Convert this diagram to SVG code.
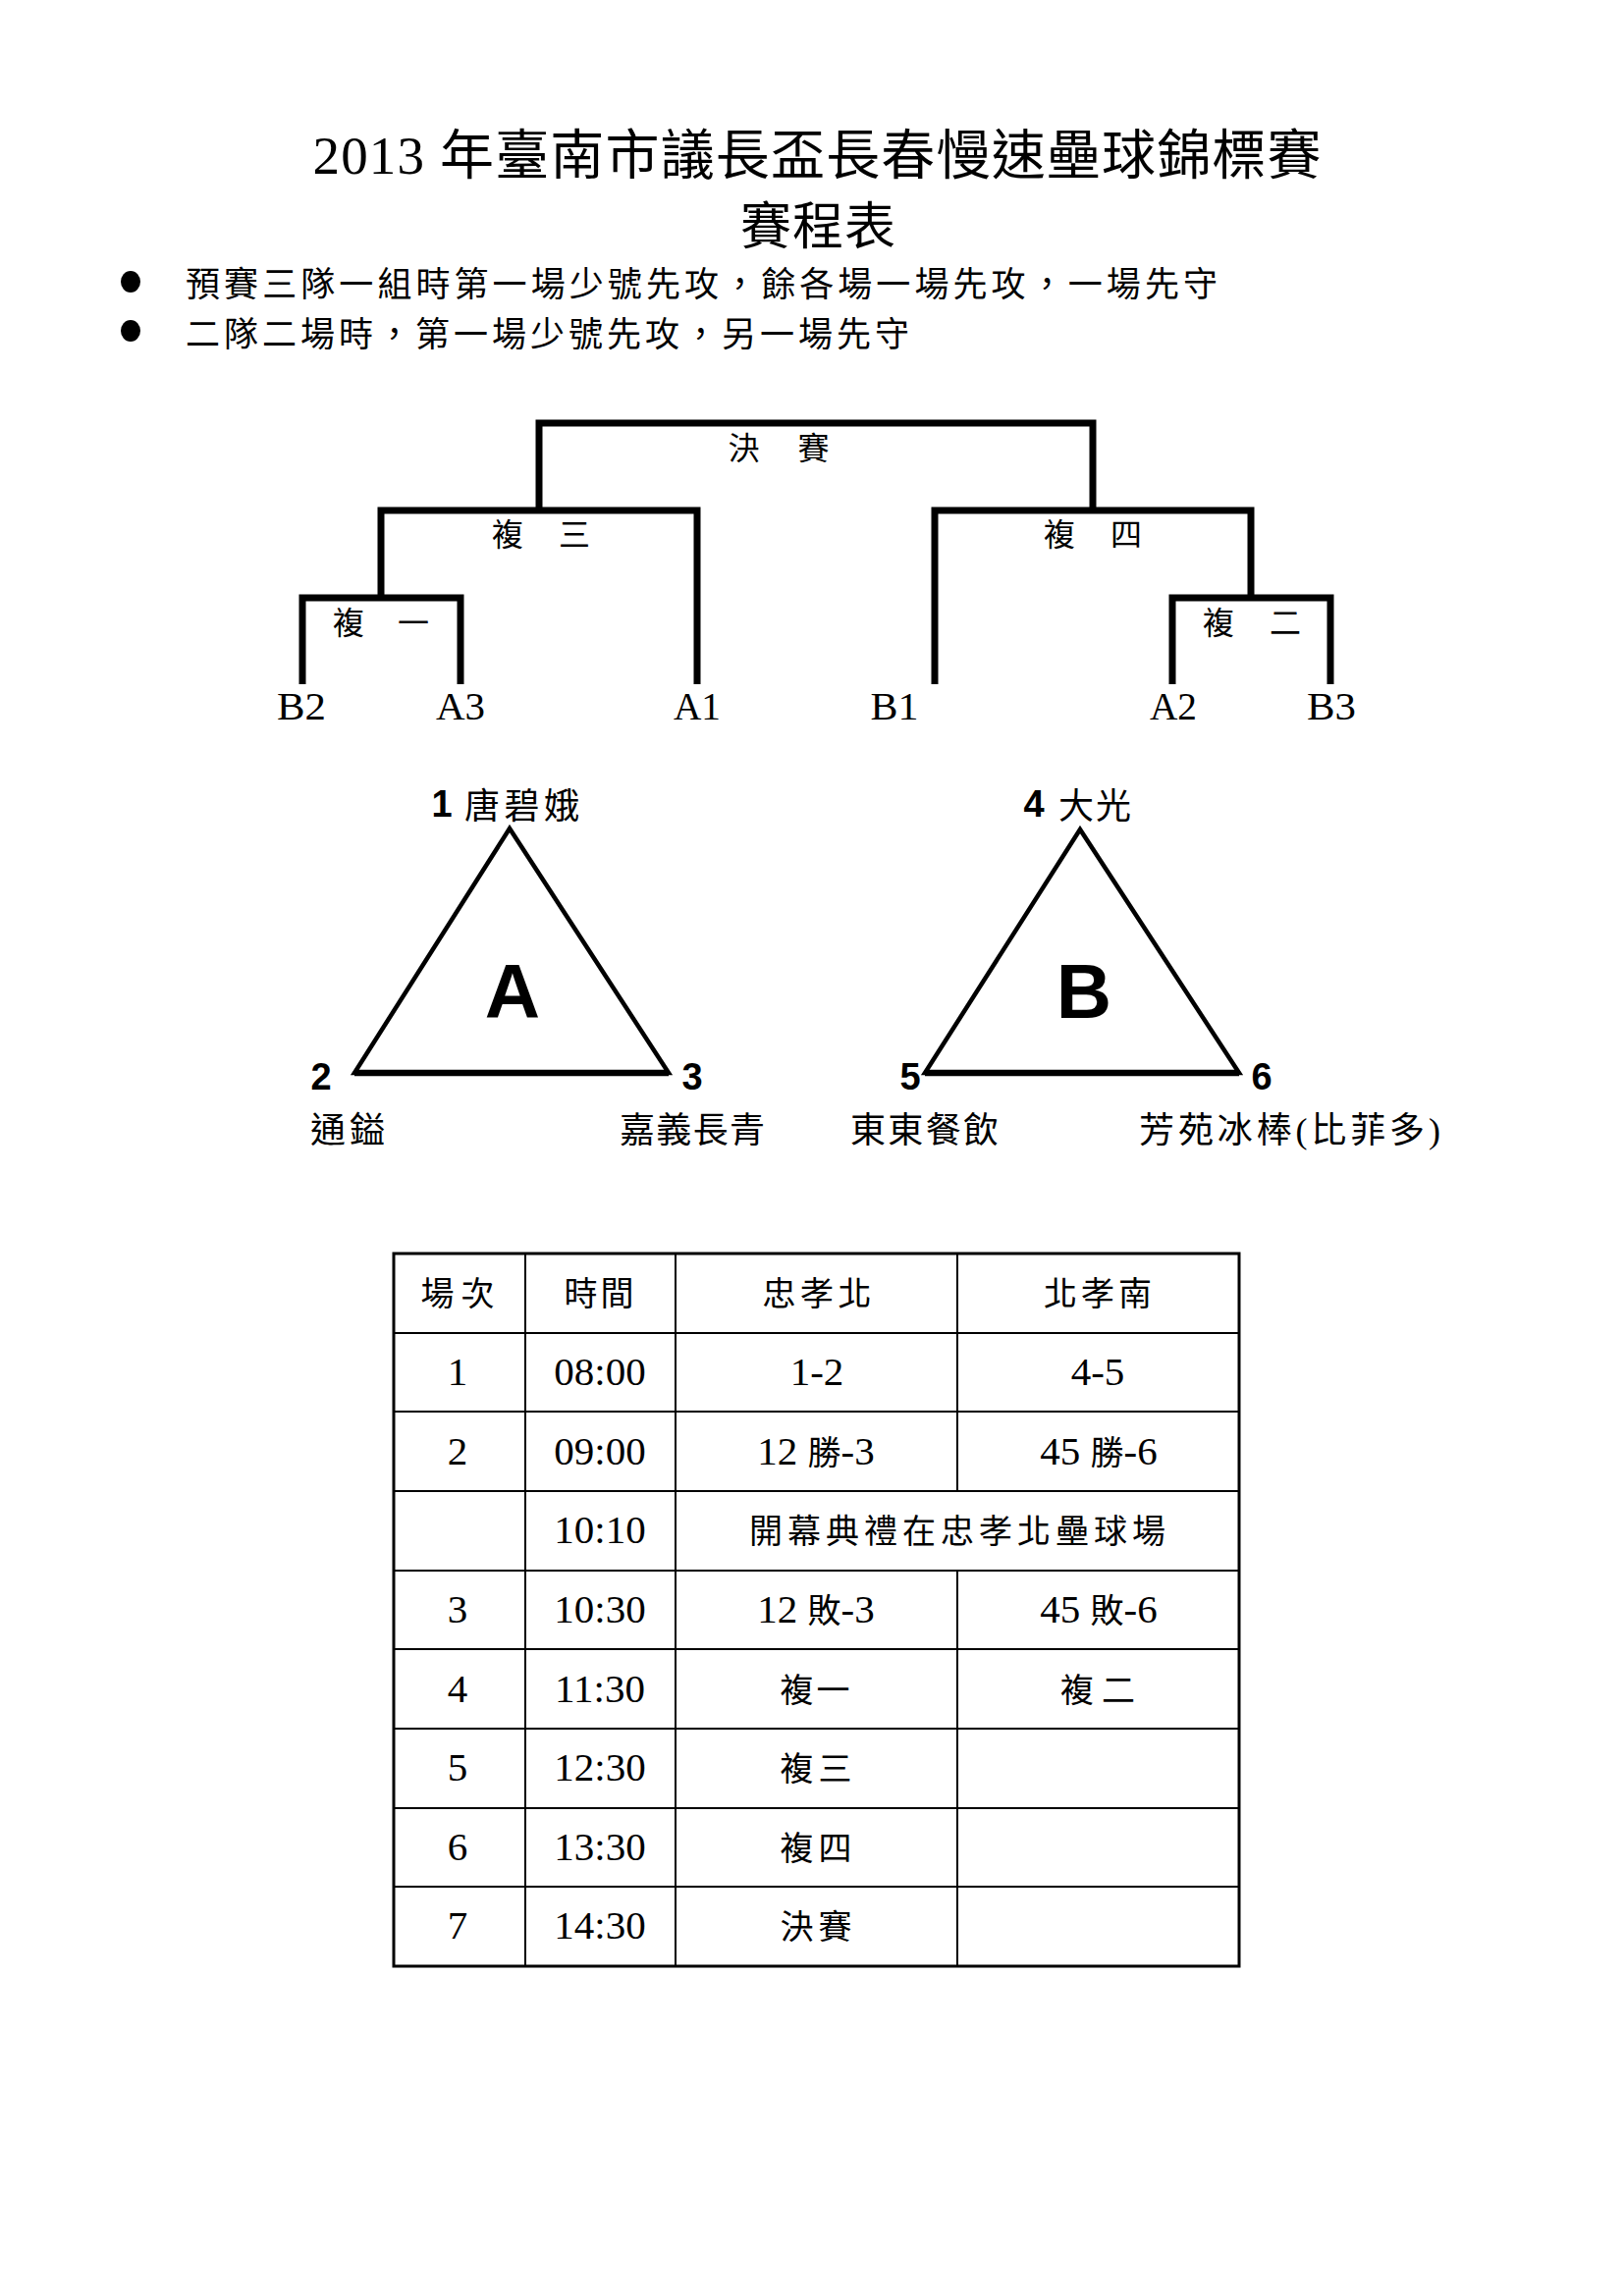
<svg xmlns="http://www.w3.org/2000/svg" width="1654" height="2339" viewBox="0 0 1654 2339">
<style>
.t{font-family:"Liberation Serif","Noto Sans CJK TC",serif;fill:#000}
.c{font-family:"Liberation Serif","Noto Sans CJK TC",serif;fill:#000}
.b{font-family:"Liberation Sans",Arial,sans-serif;font-weight:bold;fill:#000}
.m{text-anchor:middle}
.br{fill:none;stroke:#000;stroke-width:7;stroke-linejoin:miter;stroke-linecap:butt}
.tri{fill:none;stroke:#000;stroke-width:4.5;stroke-linejoin:miter}
.tb{stroke:#000;stroke-width:2}
.tbo{fill:none;stroke:#000;stroke-width:3}
.cell{font-size:34px}
.dig{font-size:41px}
</style>
<rect width="1654" height="2339" fill="#fff"/>

<g id="title">
<text class="t m" x="832" y="177" font-size="55" textLength="1027" lengthAdjust="spacing">2013 年臺南市議長盃長春慢速壘球錦標賽</text>
<text class="t m" x="833" y="249" font-size="52" textLength="158" lengthAdjust="spacing">賽程表</text>
</g>

<g id="notes">
<ellipse cx="133" cy="287" rx="10" ry="11" fill="#000"/>
<text class="t" x="189" y="302" font-size="35" textLength="1051" lengthAdjust="spacing">預賽三隊一組時第一場少號先攻，餘各場一場先攻，一場先守</text>
<ellipse cx="133" cy="337" rx="10" ry="11" fill="#000"/>
<text class="t" x="189" y="353" font-size="35" textLength="737" lengthAdjust="spacing">二隊二場時，第一場少號先攻，另一場先守</text>
</g>

<g id="connectors">
<polyline class="br" points="549,520 549,431 1113,431 1113,520" stroke-width="9"/>
<polyline class="br" points="388,608 388,520 710,520 710,697"/>
<polyline class="br" points="308,697 308,609 469,609 469,697"/>
<polyline class="br" points="952,697 952,520 1274,520 1274,608"/>
<polyline class="br" points="1194,697 1194,609 1355,609 1355,697"/>
</g>

<g id="match-final"><text class="t m" x="793" y="468" font-size="32" textLength="103" lengthAdjust="spacing">決賽</text></g>
<g id="match-3"><text class="t m" x="551" y="556" font-size="32" textLength="100" lengthAdjust="spacing">複三</text></g>
<g id="match-4"><text class="t m" x="1113" y="556" font-size="32" textLength="100" lengthAdjust="spacing">複四</text></g>
<g id="match-1"><text class="t m" x="388" y="646" font-size="32" textLength="98" lengthAdjust="spacing">複一</text></g>
<g id="match-2"><text class="t m" x="1275" y="646" font-size="32" textLength="100" lengthAdjust="spacing">複二</text></g>

<g id="leaf-B2"><text class="t m" x="307" y="733" font-size="41" textLength="50" lengthAdjust="spacingAndGlyphs">B2</text></g>
<g id="leaf-A3"><text class="t m" x="469" y="733" font-size="41" textLength="50" lengthAdjust="spacingAndGlyphs">A3</text></g>
<g id="leaf-A1"><text class="t m" x="710" y="733" font-size="41" textLength="48" lengthAdjust="spacingAndGlyphs">A1</text></g>
<g id="leaf-B1"><text class="t m" x="911" y="733" font-size="41" textLength="49" lengthAdjust="spacingAndGlyphs">B1</text></g>
<g id="leaf-A2"><text class="t m" x="1195" y="733" font-size="41" textLength="48" lengthAdjust="spacingAndGlyphs">A2</text></g>
<g id="leaf-B3"><text class="t m" x="1356" y="733" font-size="41" textLength="50" lengthAdjust="spacingAndGlyphs">B3</text></g>

<g id="group-A">
<polygon class="tri" points="519,844 361,1093 681,1093"/>
<line x1="361" y1="1093" x2="681" y2="1093" stroke="#000" stroke-width="6.5"/>
<text class="b m" x="522" y="1037" font-size="78">A</text>
<text class="b m" x="450" y="832" font-size="38">1</text>
<text class="t" x="473" y="834" font-size="36" textLength="117" lengthAdjust="spacing">唐碧娥</text>
<text class="b m" x="327" y="1110" font-size="38">2</text>
<text class="b m" x="705" y="1110" font-size="38">3</text>
<text class="t" x="316" y="1164" font-size="36" textLength="76" lengthAdjust="spacing">通鎰</text>
<text class="t" x="631" y="1164" font-size="36" textLength="148" lengthAdjust="spacing">嘉義長青</text>
</g>

<g id="group-B">
<polygon class="tri" points="1100,845 942,1093 1262,1093"/>
<line x1="942" y1="1093" x2="1262" y2="1093" stroke="#000" stroke-width="6.5"/>
<text class="b m" x="1104" y="1037" font-size="78">B</text>
<text class="b m" x="1053" y="832" font-size="38">4</text>
<text class="t" x="1078" y="834" font-size="36" textLength="74" lengthAdjust="spacing">大光</text>
<text class="b m" x="927" y="1110" font-size="38">5</text>
<text class="b m" x="1285" y="1110" font-size="38">6</text>
<text class="t" x="866" y="1164" font-size="36" textLength="151" lengthAdjust="spacing">東東餐飲</text>
<text class="t" x="1160" y="1164" font-size="36" textLength="307" lengthAdjust="spacing">芳苑冰棒(比菲多)</text>
</g>

<g id="schedule-table">
<rect class="tbo" x="401" y="1277" width="861" height="726"/>
<line class="tb" x1="401" y1="1358" x2="1262" y2="1358"/>
<line class="tb" x1="401" y1="1438" x2="1262" y2="1438"/>
<line class="tb" x1="401" y1="1519" x2="1262" y2="1519"/>
<line class="tb" x1="401" y1="1600" x2="1262" y2="1600"/>
<line class="tb" x1="401" y1="1680" x2="1262" y2="1680"/>
<line class="tb" x1="401" y1="1761" x2="1262" y2="1761"/>
<line class="tb" x1="401" y1="1842" x2="1262" y2="1842"/>
<line class="tb" x1="401" y1="1922" x2="1262" y2="1922"/>
<line class="tb" x1="535" y1="1277" x2="535" y2="2003"/>
<line class="tb" x1="688" y1="1277" x2="688" y2="2003"/>
<line class="tb" x1="975" y1="1277" x2="975" y2="1519"/>
<line class="tb" x1="975" y1="1600" x2="975" y2="2003"/>

<text class="c m cell" x="466" y="1330" textLength="75" lengthAdjust="spacing">場次</text>
<text class="c m cell" x="610" y="1330" textLength="71" lengthAdjust="spacing">時間</text>
<text class="c m cell" x="832" y="1330" textLength="111" lengthAdjust="spacing">忠孝北</text>
<text class="c m cell" x="1118" y="1330" textLength="110" lengthAdjust="spacing">北孝南</text>

<text class="c m dig" x="466" y="1411">1</text>
<text class="c m dig" x="611" y="1411">08:00</text>
<text class="c m dig" x="832" y="1411">1-2</text>
<text class="c m dig" x="1118" y="1411">4-5</text>

<text class="c m dig" x="466" y="1492">2</text>
<text class="c m dig" x="611" y="1492">09:00</text>
<text class="c m" x="831" y="1492"><tspan class="dig">12 </tspan><tspan class="cell">勝</tspan><tspan class="dig">-3</tspan></text>
<text class="c m" x="1119" y="1492"><tspan class="dig">45 </tspan><tspan class="cell">勝</tspan><tspan class="dig">-6</tspan></text>

<text class="c m dig" x="611" y="1572">10:10</text>
<text class="c m cell" x="975" y="1572" textLength="424" lengthAdjust="spacing">開幕典禮在忠孝北壘球場</text>

<text class="c m dig" x="466" y="1653">3</text>
<text class="c m dig" x="611" y="1653">10:30</text>
<text class="c m" x="831" y="1653"><tspan class="dig">12 </tspan><tspan class="cell">敗</tspan><tspan class="dig">-3</tspan></text>
<text class="c m" x="1119" y="1653"><tspan class="dig">45 </tspan><tspan class="cell">敗</tspan><tspan class="dig">-6</tspan></text>

<text class="c m dig" x="466" y="1734">4</text>
<text class="c m dig" x="611" y="1734">11:30</text>
<text class="c m cell" x="830" y="1734" textLength="71" lengthAdjust="spacing">複一</text>
<text class="c m cell" x="1118" y="1734" textLength="76" lengthAdjust="spacing">複二</text>

<text class="c m dig" x="466" y="1814">5</text>
<text class="c m dig" x="611" y="1814">12:30</text>
<text class="c m cell" x="831" y="1814" textLength="73" lengthAdjust="spacing">複三</text>

<text class="c m dig" x="466" y="1895">6</text>
<text class="c m dig" x="611" y="1895">13:30</text>
<text class="c m cell" x="831" y="1895" textLength="73" lengthAdjust="spacing">複四</text>

<text class="c m dig" x="466" y="1975">7</text>
<text class="c m dig" x="611" y="1975">14:30</text>
<text class="c m cell" x="831" y="1975" textLength="73" lengthAdjust="spacing">決賽</text>
</g>
</svg>
